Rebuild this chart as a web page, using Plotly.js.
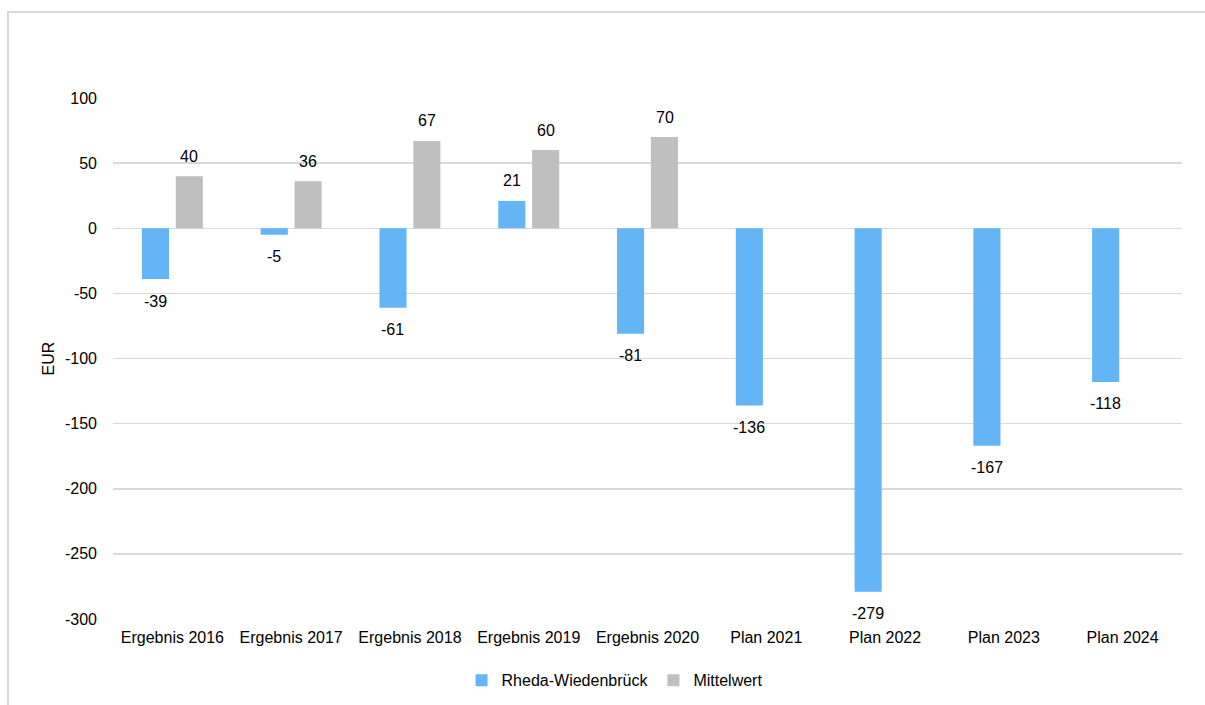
<!DOCTYPE html>
<html>
<head>
<meta charset="utf-8">
<script src="https://cdn.plot.ly/plotly-3.0.1.min.js"></script>
<style>
  html, body { margin: 0; padding: 0; background: #fff; }
  #wrap { position: relative; width: 1205px; height: 705px; overflow: hidden; }
  #chart { position: absolute; left: 0; top: 0; width: 1205px; height: 705px; }
  #frame { position: absolute; left: 7px; top: 11px; width: 1210px; height: 720px;
           border: 2px solid #d9d9d9; box-sizing: border-box; pointer-events: none; }
</style>
</head>
<body>
<div id="wrap">
  <div id="chart"></div>
  <div id="frame"></div>
</div>
<script>
const categories = ["Ergebnis 2016", "Ergebnis 2017", "Ergebnis 2018", "Ergebnis 2019", "Ergebnis 2020",
                    "Plan 2021", "Plan 2022", "Plan 2023", "Plan 2024"];
const rhedaValues = [-39, -5, -61, 21, -81, -136, -279, -167, -118];
const mittelwertValues = [40, 36, 67, 60, 70, null, null, null, null];
const seriesNames = ["Rheda-Wiedenbrück", "Mittelwert"];
const yTicks = [-300, -250, -200, -150, -100, -50, 0, 50, 100];

const font = "Liberation Sans, Arial, sans-serif";
const fs = 16;

const traces = [
  { type: "bar", name: seriesNames[0], x: categories, y: rhedaValues,
    marker: { color: "#64b5f6" }, hoverinfo: "x+y" },
  { type: "bar", name: seriesNames[1], x: categories, y: mittelwertValues,
    marker: { color: "#bfbfbf" }, hoverinfo: "x+y" }
];

const annotations = [];
function addLabels(vals, xshift) {
  vals.forEach((v, i) => {
    if (v === null) return;
    annotations.push({
      x: categories[i], y: v, xref: "x", yref: "y",
      text: String(v), showarrow: false,
      xanchor: "center", yanchor: "middle",
      xshift: xshift, yshift: v >= 0 ? 20 : -22,
      font: { family: font, size: fs, color: "#000" }
    });
  });
}
addLabels(rhedaValues, -17);
addLabels(mittelwertValues, 17);

const layout = {
  width: 1205, height: 705,
  margin: { l: 113, r: 23, t: 98, b: 86, autoexpand: false },
  paper_bgcolor: "rgba(0,0,0,0)", plot_bgcolor: "#fff",
  font: { family: font, size: fs, color: "#000" },
  barmode: "group", bargap: 0.43, bargroupgap: 0.2,
  showlegend: true,
  legend: { orientation: "h", xref: "container", yref: "container",
            x: 0.51, xanchor: "center", y: 0.035, yanchor: "middle",
            font: { family: font, size: fs, color: "#000" }, itemwidth: 30, tracegroupgap: 0 },
  xaxis: { type: "category", showgrid: false, zeroline: false, showline: false,
           ticks: "", ticklabelstandoff: 7,
           tickfont: { family: font, size: fs, color: "#000" }, automargin: false },
  yaxis: { range: [-300, 100], tickvals: yTicks, ticktext: yTicks.map(String),
           showgrid: true, gridcolor: "#d9d9d9", gridwidth: 1.5,
           zeroline: false, showline: false, ticks: "", ticklabelstandoff: 15,
           tickfont: { family: font, size: fs, color: "#000" },
           title: { text: "EUR", font: { family: font, size: fs, color: "#000" }, standoff: 6 },
           automargin: false },
  annotations: annotations
};

Plotly.newPlot("chart", traces, layout, { displayModeBar: false, staticPlot: true });
</script>
</body>
</html>
